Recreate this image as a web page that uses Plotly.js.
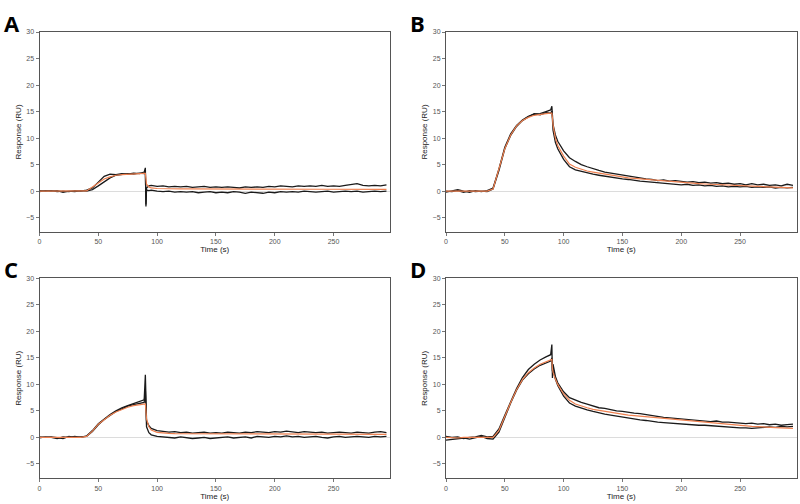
<!DOCTYPE html>
<html>
<head>
<meta charset="utf-8">
<script src="https://cdn.plot.ly/plotly-3.0.1.min.js"></script>
<style>
  html, body { margin: 0; padding: 0; background: #fff; }
  #plot { width: 800px; height: 504px; }
</style>
</head>
<body>
<div id="plot"></div>
<script>
// sampling times (s), shared by every panel
const TIME = [0, 5, 10, 15, 20, 25, 30, 35, 40, 45, 50, 55, 60, 65, 70, 75, 80, 85,
  89, 90, 90.5, 91, 93,
  95, 100, 105, 110, 115, 120, 125, 130, 135, 140, 145, 150, 155, 160, 165, 170, 175,
  180, 185, 190, 195, 200, 205, 210, 215, 220, 225, 230, 235, 240, 245, 250, 255, 260,
  265, 270, 275, 280, 285, 290, 295];

// panel A
const A_REP1 = [0.1, 0.0, 0.1, -0.1, 0.0, -0.1, 0.1, 0.0, 0.2, 0.6, 1.7, 2.8, 3.2, 3.1, 3.3, 3.2, 3.4, 3.3,
  3.6, 4.4, -2.9, 0.6, 1.0,
  1.1, 0.9, 1.0, 0.8, 0.9, 0.8, 0.9, 0.7, 0.8, 0.9, 0.7, 0.8, 0.7, 0.8, 0.7, 0.6, 0.8,
  0.7, 0.8, 0.7, 0.9, 0.8, 1.0, 0.9, 0.8, 1.0, 0.9, 1.0, 0.9, 1.1, 0.9, 1.0, 0.9, 1.1,
  1.2, 1.4, 1.1, 1.0, 1.1, 1.0, 1.2];
const A_REP2 = [-0.1, 0.1, 0.0, 0.1, -0.2, 0.0, -0.1, 0.1, 0.0, 0.3, 1.0, 1.8, 2.5, 3.0, 3.1, 3.3, 3.2, 3.4,
  3.3, 3.8, -2.5, 0.2, 0.1,
  0.2, 0.0, -0.1, 0.0, -0.2, -0.1, -0.2, -0.1, -0.3, -0.2, -0.1, -0.3, -0.2, -0.3, -0.1, -0.2, -0.4,
  -0.2, -0.3, -0.4, -0.2, -0.3, -0.1, -0.2, -0.1, -0.2, 0.0, -0.1, -0.2, -0.1, 0.0, -0.2, -0.1, 0.0,
  -0.1, 0.0, -0.2, -0.1, 0.0, -0.1, 0.0];
const A_FIT = [0, 0, 0, 0, 0, 0, 0, 0, 0.05, 0.8, 1.6, 2.3, 2.7, 3.0, 3.1, 3.2, 3.3, 3.3,
  3.35, 3.35, 2.0, 1.3, 0.8,
  0.6, 0.5, 0.45, 0.45, 0.45, 0.44, 0.44, 0.43, 0.43, 0.42, 0.42, 0.42, 0.41, 0.41, 0.4, 0.4, 0.4,
  0.4, 0.39, 0.39, 0.39, 0.38, 0.38, 0.38, 0.37, 0.37, 0.37, 0.37, 0.36, 0.36, 0.36, 0.36, 0.35, 0.35,
  0.35, 0.35, 0.34, 0.34, 0.34, 0.34, 0.33];

// panel B
const B_REP1 = [-0.2, 0.1, 0.3, 0.0, -0.2, 0.1, -0.1, 0.1, 0.6, 4.2, 8.3, 10.8, 12.4, 13.4, 14.1, 14.5, 14.6, 15.0,
  15.3, 16.0, 14.8, 12.6, 10.6,
  9.4, 7.6, 6.3, 5.6, 5.0, 4.6, 4.2, 3.9, 3.6, 3.4, 3.2, 3.0, 2.8, 2.6, 2.5, 2.3, 2.2,
  2.0, 2.1, 1.9, 2.0, 1.8, 1.7, 1.8, 1.6, 1.7, 1.5, 1.6, 1.4, 1.5, 1.3, 1.4, 1.2, 1.4,
  1.2, 1.3, 1.1, 1.2, 1.0, 1.3, 1.1];
const B_REP2 = [0.0, -0.1, 0.1, -0.2, 0.1, -0.1, 0.0, -0.1, 0.4, 3.9, 8.0, 10.5, 12.2, 13.3, 14.0, 14.6, 14.4, 14.8,
  14.7, 15.1, 13.5, 11.5, 9.2,
  8.0, 6.0, 4.6, 4.0, 3.7, 3.4, 3.2, 3.0, 2.8, 2.6, 2.5, 2.3, 2.2, 2.0, 1.9, 1.8, 1.7,
  1.6, 1.5, 1.4, 1.3, 1.2, 1.3, 1.1, 1.2, 1.0, 1.1, 0.9, 1.0, 0.8, 0.9, 0.8, 0.9, 0.7,
  0.8, 0.7, 0.8, 0.6, 0.7, 0.6, 0.7];
const B_FIT = [0, 0, 0, 0, 0, 0, 0, 0, 0.4, 4.0, 8.0, 10.6, 12.3, 13.3, 13.9, 14.3, 14.5, 14.6,
  14.7, 14.7, 13.8, 12.5, 10.0,
  8.6, 6.6, 5.1, 4.5, 4.1, 3.8, 3.6, 3.4, 3.2, 3.0, 2.8, 2.7, 2.5, 2.4, 2.3, 2.2, 2.1,
  2.0, 1.9, 1.8, 1.7, 1.6, 1.55, 1.5, 1.4, 1.35, 1.3, 1.2, 1.15, 1.1, 1.05, 1.0, 0.95, 0.9,
  0.85, 0.8, 0.75, 0.7, 0.7, 0.65, 0.6];

// panel C
const C_REP1 = [-0.1, 0.1, 0.0, -0.2, 0.1, 0.0, 0.2, 0.0, 0.3, 1.3, 2.6, 3.5, 4.3, 5.0, 5.6, 6.0, 6.4, 6.7,
  7.1, 11.8, 6.0, 3.2, 2.2,
  1.7, 1.3, 1.1, 1.0, 1.1, 0.9, 1.0, 0.8, 0.9, 1.0, 0.8, 0.9, 0.8, 1.0, 0.9, 0.8, 1.0,
  0.9, 1.1, 1.0, 0.9, 1.1, 1.0, 1.2, 1.0, 0.9, 1.1, 1.0, 0.9, 1.0, 0.8, 0.9, 1.0, 0.9,
  0.8, 1.0, 0.9, 0.8, 1.0, 1.1, 0.9];
const C_REP2 = [0.1, 0.0, 0.1, -0.1, -0.2, 0.2, 0.0, 0.1, 0.2, 1.1, 2.4, 3.4, 4.2, 4.9, 5.4, 5.9, 6.2, 6.4,
  6.6, 9.0, 4.5, 2.0, 0.9,
  0.5, 0.2, 0.1, 0.0, -0.1, 0.1, 0.0, -0.2, -0.1, 0.0, -0.2, -0.1, 0.0, 0.1, -0.1, 0.0, 0.1,
  -0.1, 0.2, 0.1, 0.0, 0.2, 0.1, 0.3, 0.1, 0.2, 0.0, 0.1, 0.2, 0.0, -0.1, 0.1, 0.2, 0.0,
  0.1, 0.2, 0.1, 0.0, 0.2, 0.1, 0.2];
const C_FIT = [0, 0, 0, 0, 0, 0, 0, 0, 0.2, 1.2, 2.5, 3.4, 4.2, 4.8, 5.3, 5.7, 6.0, 6.2,
  6.3, 6.3, 5.0, 3.5, 2.0,
  1.4, 0.95, 0.8, 0.75, 0.72, 0.71, 0.7, 0.7, 0.69, 0.69, 0.68, 0.68, 0.67, 0.67, 0.66, 0.66, 0.66,
  0.65, 0.65, 0.65, 0.64, 0.64, 0.64, 0.63, 0.63, 0.63, 0.62, 0.62, 0.62, 0.62, 0.61, 0.61, 0.61, 0.61,
  0.6, 0.6, 0.6, 0.6, 0.6, 0.59, 0.59];

// panel D
const D_REP1 = [0.2, 0.0, 0.1, -0.2, 0.0, 0.1, 0.4, 0.1, 0.2, 1.6, 4.2, 6.8, 9.2, 11.3, 12.8, 13.8, 14.6, 15.2,
  15.6, 17.5, 11.2, 13.8, 11.5,
  10.3, 8.6, 7.5, 7.0, 6.6, 6.3, 6.0, 5.6, 5.5, 5.2, 5.0, 4.9, 4.7, 4.6, 4.5, 4.3, 4.1,
  4.0, 3.8, 3.7, 3.6, 3.5, 3.4, 3.3, 3.2, 3.2, 3.0, 3.1, 2.9, 2.9, 2.8, 2.8, 2.6, 2.7,
  2.5, 2.6, 2.4, 2.5, 2.3, 2.4, 2.5];
const D_REP2 = [-0.5, -0.4, -0.2, -0.1, -0.3, 0.0, 0.2, -0.2, -0.3, 1.0, 3.8, 6.5, 8.9, 10.8, 12.0, 12.9, 13.6, 14.1,
  14.4, 15.0, 12.5, 12.8, 11.0,
  9.8, 7.8, 6.5, 5.9, 5.5, 5.2, 4.9, 4.6, 4.4, 4.2, 4.0, 3.8, 3.6, 3.5, 3.3, 3.2, 3.0,
  2.9, 2.8, 2.7, 2.7, 2.6, 2.5, 2.4, 2.3, 2.3, 2.2, 2.1, 2.0, 2.0, 1.9, 1.8, 1.8, 1.7,
  1.8, 1.9, 2.0, 1.9, 2.1, 2.0, 2.1];
const D_FIT = [0, -0.1, -0.1, 0, 0, 0, 0, 0, 0, 1.3, 4.0, 6.6, 9.0, 10.9, 12.2, 13.1, 13.8, 14.3,
  14.6, 14.7, 13.0, 12.3, 11.0,
  10.0, 8.2, 7.0, 6.3, 5.9, 5.6, 5.3, 5.1, 4.9, 4.7, 4.5, 4.4, 4.2, 4.1, 4.0, 3.8, 3.7,
  3.6, 3.5, 3.4, 3.3, 3.2, 3.1, 3.0, 2.9, 2.85, 2.75, 2.65, 2.55, 2.45, 2.35, 2.3, 2.2, 2.1,
  2.05, 1.95, 1.9, 1.85, 1.8, 1.75, 1.7];

const PANELS = [
  { label: 'A', reps: [A_REP1, A_REP2], fit: A_FIT },
  { label: 'B', reps: [B_REP1, B_REP2], fit: B_FIT },
  { label: 'C', reps: [C_REP1, C_REP2], fit: C_FIT },
  { label: 'D', reps: [D_REP1, D_REP2], fit: D_FIT }
];

const X_TICKS = [0, 50, 100, 150, 200, 250];
const Y_TICKS = [-5, 0, 5, 10, 15, 20, 25, 30];

// pixel boxes of the four plot areas (800 x 504 page)
const W = 800, H = 504;
const colsPx = [[39.5, 390], [446, 796.5]];
const rowsPx = [[32, 232], [278.3, 478.3]];

let traces = [];
let layout = {
  width: W,
  height: H,
  margin: { l: 0, r: 0, t: 0, b: 0 },
  paper_bgcolor: '#fff',
  plot_bgcolor: '#fff',
  showlegend: false,
  font: { family: 'Liberation Sans, Arial, sans-serif', color: '#333' },
  annotations: []
};

PANELS.forEach((p, i) => {
  let n = i === 0 ? '' : String(i + 1);
  let col = colsPx[i % 2], row = rowsPx[Math.floor(i / 2)];

  p.reps.forEach(r => {
    traces.push({
      x: TIME, y: r, xaxis: 'x' + n, yaxis: 'y' + n,
      type: 'scatter', mode: 'lines',
      line: { color: '#1a1a1a', width: 1.3 },
      hoverinfo: 'skip'
    });
  });
  traces.push({
    x: TIME, y: p.fit, xaxis: 'x' + n, yaxis: 'y' + n,
    type: 'scatter', mode: 'lines',
    line: { color: '#ee8050', width: 1.2 },
    hoverinfo: 'skip'
  });

  layout['xaxis' + n] = {
    domain: [col[0] / W, col[1] / W],
    anchor: 'y' + n,
    range: [0, 298],
    tickvals: X_TICKS,
    ticks: 'outside', ticklen: 3, tickcolor: '#777',
    tickfont: { size: 7, color: '#555' },
    showline: true, linecolor: '#555', linewidth: 1, mirror: true,
    showgrid: false, zeroline: false,
    title: { text: 'Time (s)', font: { size: 8, color: '#222' }, standoff: 0 }
  };
  layout['yaxis' + n] = {
    domain: [1 - row[1] / H, 1 - row[0] / H],
    anchor: 'x' + n,
    range: [-7.7, 30],
    tickvals: Y_TICKS,
    ticks: 'outside', ticklen: 3, tickcolor: '#777',
    tickfont: { size: 7, color: '#555' },
    showline: true, linecolor: '#555', linewidth: 1, mirror: true,
    showgrid: false,
    zeroline: true, zerolinecolor: '#dcdcdc', zerolinewidth: 1,
    title: { text: 'Response (RU)', font: { size: 8, color: '#222' }, standoff: 3 }
  };

  layout.annotations.push({
    text: '<b>' + p.label + '</b>',
    xref: 'paper', yref: 'paper',
    x: (col[0] - 38) / W, y: 1 - (row[0] - 26) / H,
    xanchor: 'left', yanchor: 'top', showarrow: false,
    font: { family: 'Open Sans, sans-serif', size: 22, color: '#000' }
  });
});

Plotly.newPlot('plot', traces, layout, { staticPlot: true });
</script>
</body>
</html>
